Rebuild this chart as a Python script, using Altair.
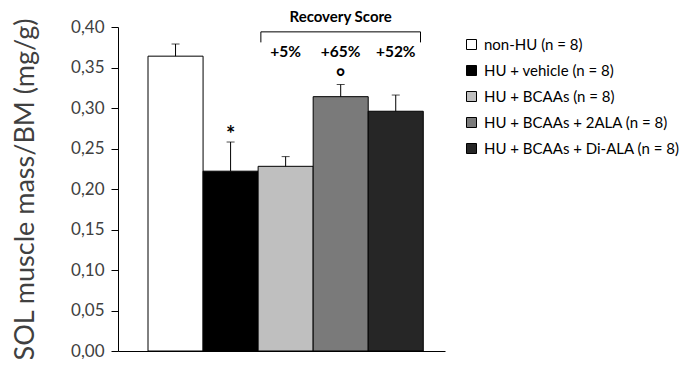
import altair as alt
import pandas as pd

groups = ["non-HU (n = 8)", "HU + vehicle (n = 8)", "HU + BCAAs (n = 8)",
          "HU + BCAAs + 2ALA (n = 8)", "HU + BCAAs + Di-ALA (n = 8)"]
means = [0.364, 0.222, 0.228, 0.314, 0.296]
sems = [0.015, 0.036, 0.012, 0.015, 0.020]
bar_colors = ["#ffffff", "#000000", "#bfbfbf", "#7a7a7a", "#262626"]
sig_marks = ["", "*", "", "°", ""]
recovery_groups = [groups[2], groups[3], groups[4]]
recovery_labels = ["+5%", "+65%", "+52%"]
recovery_label_y = 0.369
recovery_title = "Recovery Score"
recovery_title_y = 0.412
bracket_y = 0.394
bracket_end_y = 0.381
y_ticks = [0.0, 0.05, 0.10, 0.15, 0.20, 0.25, 0.30, 0.35, 0.40]
y_title = "SOL muscle mass/BM (mg/g)"

FONT = "Lato"
GREY = "#404040"
PLOT_H = 324

df = pd.DataFrame({"group": groups, "mean": means, "sem": sems, "sig": sig_marks})
df["upper"] = df["mean"] + df["sem"]

rec_df = pd.DataFrame({"group": recovery_groups, "label": recovery_labels,
                       "y": [recovery_label_y] * 3})
title_df = pd.DataFrame({"group": [groups[3]], "label": [recovery_title], "y": [recovery_title_y]})
br_df = pd.DataFrame({"group": [groups[2]], "group2": [groups[4]],
                      "y": [bracket_y], "y2": [bracket_end_y]})
brl_df = pd.DataFrame({"group": [groups[2]], "y": [bracket_y], "y2": [bracket_end_y]})
brr_df = pd.DataFrame({"group": [groups[4]], "y": [bracket_y], "y2": [bracket_end_y]})

xscale = alt.Scale(domain=groups, paddingInner=0, paddingOuter=0.47, align=0.58)
yscale = alt.Scale(domain=[0, 0.4], nice=False)
xaxis = alt.Axis(labels=False, ticks=False, title=None, domainColor="black", grid=False)
yaxis = alt.Axis(values=y_ticks,
                 labelExpr="replace(format(datum.value, '.2f'), '.', ',')",
                 title=y_title, grid=False, domainColor="black", tickColor="black",
                 tickSize=7, labelFontSize=17, labelColor=GREY, labelFont=FONT,
                 labelPadding=7, titleFontSize=27, titleFont=FONT,
                 titleFontWeight="normal", titleColor=GREY,
                 titleX=-93, titleY=PLOT_H / 2, titleAngle=-90, titleAlign="center",
                 titleBaseline="middle")


def xe(bp=0.5):
    return alt.X("group:N", scale=xscale, axis=xaxis, bandPosition=bp)


def ye(field):
    return alt.Y(f"{field}:Q", scale=yscale, axis=yaxis)


bars = alt.Chart(df).mark_bar(stroke="black", strokeWidth=1).encode(
    x=alt.X("group:N", scale=xscale, axis=xaxis),
    y=ye("mean"),
    fill=alt.Fill("group:N", scale=alt.Scale(domain=groups, range=bar_colors),
                  legend=alt.Legend(title=None, orient="none", legendX=346, legendY=10,
                                    symbolType="square", symbolSize=100,
                                    symbolStrokeColor="black", symbolStrokeWidth=1,
                                    labelFont=FONT, labelFontSize=15, labelColor="black",
                                    labelOffset=5, rowPadding=10, labelLimit=300)),
)

err = alt.Chart(df).mark_rule(color="black", strokeWidth=1).encode(
    x=xe(), y=ye("mean"), y2="upper:Q")
cap = alt.Chart(df).mark_tick(color="black", thickness=1, size=8).encode(
    x=xe(), y=ye("upper"))
sig = alt.Chart(df).mark_text(font=FONT, fontSize=22, fontWeight="bold",
                              baseline="alphabetic", dy=0, color="black").encode(
    x=xe(), y=ye("upper"), text="sig:N")
rec = alt.Chart(rec_df).mark_text(font=FONT, fontSize=15.5, fontWeight="bold",
                                  baseline="middle", color="black").encode(
    x=xe(), y=ye("y"), text="label:N")
rtitle = alt.Chart(title_df).mark_text(font=FONT, fontSize=15, fontWeight="bold",
                                       baseline="middle", color="black").encode(
    x=xe(), y=ye("y"), text="label:N")
br_h = alt.Chart(br_df).mark_rule(color="black", strokeWidth=1).encode(
    x=xe(0.05), x2=alt.X2("group2:N", bandPosition=0.95), y=ye("y"))
br_l = alt.Chart(brl_df).mark_rule(color="black", strokeWidth=1).encode(
    x=xe(0.05), y=ye("y"), y2="y2:Q")
br_r = alt.Chart(brr_df).mark_rule(color="black", strokeWidth=1).encode(
    x=xe(0.95), y=ye("y"), y2="y2:Q")

chart = alt.layer(bars, err, cap, sig, rec, rtitle, br_h, br_l, br_r).properties(
    width=327, height=PLOT_H,
    autosize=alt.AutoSizeParams(type="none"),
    padding={"left": 110, "top": 19, "right": 236, "bottom": 8},
    background="white",
).configure_view(stroke=None)

chart.save("out.html", embed_options={"renderer": "svg", "actions": False})
